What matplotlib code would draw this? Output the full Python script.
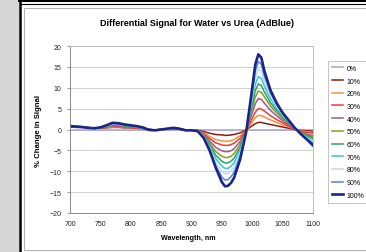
import matplotlib
matplotlib.use("Agg")
import matplotlib.pyplot as plt
from matplotlib.patches import Rectangle
from matplotlib.lines import Line2D

plt.rcParams['font.family'] = ['Liberation Sans', 'DejaVu Sans']

# wavelength samples (nm)
wl = [700, 710, 720, 730, 740, 750, 760, 770, 780, 790, 800, 810, 820, 830, 840,
      850, 860, 870, 880, 890, 900, 910, 920, 930, 940, 950, 955, 960, 965, 970,
      980, 990, 995, 1000, 1005, 1010, 1015, 1020, 1030, 1040, 1050, 1060, 1070,
      1080, 1090, 1100]

wl_0 = [700, 1100]
pct_0 = [0.0, 0.0]

pct_10 = [0.6, 0.5, 0.5, 0.4, 0.3, 0.3, 0.4, 0.5, 0.5, 0.4, 0.4, 0.3, 0.2, 0.0, -0.1,
          0.0, 0.1, 0.2, 0.1, -0.1, -0.1, -0.2, -0.5, -0.9, -1.2, -1.3, -1.4, -1.4, -1.3, -1.2,
          -0.8, -0.1, 0.4, 0.9, 1.4, 1.7, 1.7, 1.5, 1.2, 0.9, 0.6, 0.3, 0.0,
          -0.2, -0.3, -0.4]
pct_20 = [0.9, 0.7, 0.6, 0.5, 0.3, 0.4, 0.5, 0.6, 0.6, 0.5, 0.5, 0.4, 0.3, 0.0, -0.1,
          0.0, 0.1, 0.3, 0.1, -0.1, -0.1, -0.3, -0.8, -1.7, -2.4, -2.7, -2.8, -2.8, -2.7, -2.4,
          -1.5, -0.2, 0.8, 1.8, 2.8, 3.4, 3.3, 3.0, 2.3, 1.7, 1.1, 0.6, 0.1,
          -0.3, -0.5, -0.7]
pct_30 = [1.0, 0.8, 0.6, 0.5, 0.3, 0.4, 0.6, 0.8, 0.7, 0.6, 0.5, 0.4, 0.3, 0.0, -0.1,
          0.0, 0.1, 0.3, 0.1, -0.1, -0.1, -0.3, -1.0, -2.2, -3.2, -3.7, -3.8, -3.8, -3.6, -3.3,
          -2.1, -0.2, 1.2, 2.7, 4.2, 5.0, 4.9, 4.4, 3.3, 2.4, 1.6, 0.8, 0.1,
          -0.4, -0.7, -0.9]
pct_40 = [0.8, 0.7, 0.6, 0.4, 0.3, 0.4, 0.7, 0.9, 0.9, 0.7, 0.6, 0.5, 0.3, 0.0, -0.1,
          0.0, 0.1, 0.3, 0.1, -0.1, -0.1, -0.3, -1.2, -2.8, -4.3, -5.1, -5.3, -5.3, -5.1, -4.6,
          -2.9, -0.3, 1.8, 4.0, 6.2, 7.4, 7.2, 6.3, 4.6, 3.3, 2.1, 1.1, 0.2,
          -0.6, -1.1, -1.5]
pct_50 = [0.8, 0.7, 0.6, 0.4, 0.3, 0.4, 0.7, 1.0, 1.0, 0.8, 0.7, 0.5, 0.4, 0.0, -0.1,
          0.0, 0.1, 0.3, 0.1, -0.1, -0.1, -0.3, -1.3, -3.3, -5.3, -6.4, -6.7, -6.7, -6.4, -5.8,
          -3.6, -0.3, 2.2, 5.0, 7.8, 9.2, 8.9, 7.8, 5.6, 4.0, 2.6, 1.4, 0.2,
          -0.7, -1.3, -1.8]
pct_60 = [0.8, 0.7, 0.6, 0.4, 0.3, 0.5, 0.8, 1.1, 1.1, 0.9, 0.8, 0.6, 0.4, 0.0, -0.1,
          0.0, 0.2, 0.3, 0.2, -0.1, -0.1, -0.3, -1.4, -3.8, -6.2, -7.6, -8.0, -8.0, -7.6, -6.9,
          -4.3, -0.4, 2.7, 6.0, 9.3, 10.9, 10.5, 9.0, 6.4, 4.6, 3.0, 1.6, 0.2,
          -0.8, -1.5, -2.1]
pct_70 = [0.8, 0.7, 0.6, 0.4, 0.3, 0.5, 0.9, 1.2, 1.2, 1.0, 0.8, 0.6, 0.4, 0.0, -0.1,
          0.0, 0.2, 0.4, 0.2, -0.1, -0.1, -0.3, -1.5, -4.2, -7.0, -8.8, -9.3, -9.3, -8.8, -8.0,
          -5.0, -0.4, 3.1, 7.0, 10.8, 12.7, 12.2, 10.4, 7.3, 5.1, 3.3, 1.8, 0.3,
          -0.9, -1.8, -2.5]
pct_80 = [0.8, 0.7, 0.6, 0.4, 0.3, 0.5, 0.9, 1.3, 1.3, 1.1, 0.9, 0.7, 0.4, -0.1, -0.1,
          0.0, 0.2, 0.4, 0.2, -0.1, -0.2, -0.3, -1.7, -4.6, -7.9, -10.0, -10.6, -10.5, -10.0, -9.0,
          -5.7, -0.5, 3.6, 8.0, 12.4, 14.5, 13.9, 11.6, 8.1, 5.7, 3.6, 2.0, 0.3,
          -1.0, -2.0, -2.9]
pct_90 = [0.8, 0.7, 0.6, 0.4, 0.3, 0.5, 1.0, 1.4, 1.4, 1.1, 0.9, 0.7, 0.5, -0.1, -0.2,
          0.0, 0.2, 0.4, 0.2, -0.2, -0.2, -0.4, -1.9, -4.9, -8.7, -11.4, -12.1, -12.0, -11.3, -10.3,
          -6.4, -0.5, 4.1, 9.0, 14.0, 16.3, 15.6, 12.8, 8.8, 6.1, 3.8, 2.1, 0.4,
          -1.0, -2.2, -3.3]
pct_100 = [0.8, 0.7, 0.6, 0.4, 0.3, 0.5, 1.0, 1.6, 1.5, 1.2, 1.0, 0.8, 0.5, -0.1, -0.2,
           0.0, 0.2, 0.4, 0.2, -0.2, -0.2, -0.4, -2.0, -5.1, -9.2, -12.6, -13.6, -13.5, -12.8, -11.6,
           -7.2, -0.6, 4.6, 10.0, 15.6, 18.0, 17.2, 14.0, 9.4, 6.4, 4.0, 2.2, 0.4,
           -1.1, -2.4, -3.8]

labels = ['0%', '10%', '20%', '30%', '40%', '50%', '60%', '70%', '80%', '90%', '100%']
colors = ['#a3a3d6', '#8b1a1a', '#f7913d', '#ef3b36', '#a0559c', '#8c9a22',
          '#2f9e6a', '#36c8c8', '#b9dcf6', '#4f80e0', '#1c2585']

series_x = [wl_0] + [wl] * 10
series_y = [pct_0, pct_10, pct_20, pct_30, pct_40, pct_50, pct_60, pct_70,
            pct_80, pct_90, pct_100]

W, H = 366, 253
fig = plt.figure(figsize=(W / 100, H / 100), dpi=100)
fig.patch.set_facecolor('#d6d6d6')

# white panel with black frame (behind the axes)
fig.add_artist(Rectangle((19 / W, 0), 1, 1, transform=fig.transFigure,
                         facecolor='white', edgecolor='none', zorder=-10))
fig.add_artist(Line2D([20 / W, 20 / W], [0, 1], transform=fig.transFigure,
                      color='black', lw=1.8, zorder=-5))
fig.add_artist(Line2D([19 / W, 1], [1 - 1.2 / H, 1 - 1.2 / H], transform=fig.transFigure,
                      color='black', lw=2.2, zorder=-5))
fig.add_artist(Line2D([21 / W, 1], [1 - 4.5 / H, 1 - 4.5 / H], transform=fig.transFigure,
                      color='black', lw=0.8, zorder=-5))
fig.add_artist(Rectangle((23.5 / W, 2.5 / H), 1, 1 - 11 / H, transform=fig.transFigure,
                         facecolor='none', edgecolor='#b4b4b4', lw=0.8, zorder=-5))

ax = fig.add_axes([70 / W, 1 - 214 / H, 243 / W, 167 / H])
ax.set_facecolor('white')
for i in range(len(labels)):
    lw = 1.9 if labels[i] == '100%' else 1.1
    ax.plot(series_x[i], series_y[i], color=colors[i], lw=lw, label=labels[i])

ax.set_xlim(700, 1100)
ax.set_ylim(-20, 20)
ax.set_xticks(range(700, 1101, 50))
ax.set_yticks(range(-20, 21, 5))
ax.yaxis.grid(True, color='#cfcfcf', lw=0.7)
ax.set_axisbelow(True)
for s in ax.spines.values():
    s.set_color('#bdbdbd')
    s.set_linewidth(0.7)
ax.spines['left'].set_color('#8a8a8a')
ax.spines['bottom'].set_color('#8a8a8a')
ax.tick_params(axis='both', labelsize=5, length=2, width=0.6, color='#8a8a8a',
               pad=4, labelcolor='#222222')
ax.tick_params(axis='x', length=0, pad=5)

fig.text(197 / W, 1 - 23 / H, 'Differential Signal for Water vs Urea (AdBlue)',
         ha='center', va='center', fontsize=6.5, fontweight='bold')
fig.text(38 / W, 1 - 131 / H, '% Change in Signal', rotation=90,
         ha='center', va='center', fontsize=5.6, fontweight='bold')
fig.text(188 / W, 1 - 239 / H, 'Wavelength, nm',
         ha='center', va='center', fontsize=5.1, fontweight='bold')

leg = fig.legend(loc='upper left', bbox_to_anchor=(328 / W, 1 - 62 / H),
                 fontsize=5, frameon=True, fancybox=False, handlelength=1.6,
                 handletextpad=0.5, labelspacing=0.82, borderpad=0.55,
                 borderaxespad=0)
leg.get_frame().set_edgecolor('#b4b4b4')
leg.get_frame().set_linewidth(0.7)

fig.savefig('out.png', dpi=100, facecolor=fig.get_facecolor())
